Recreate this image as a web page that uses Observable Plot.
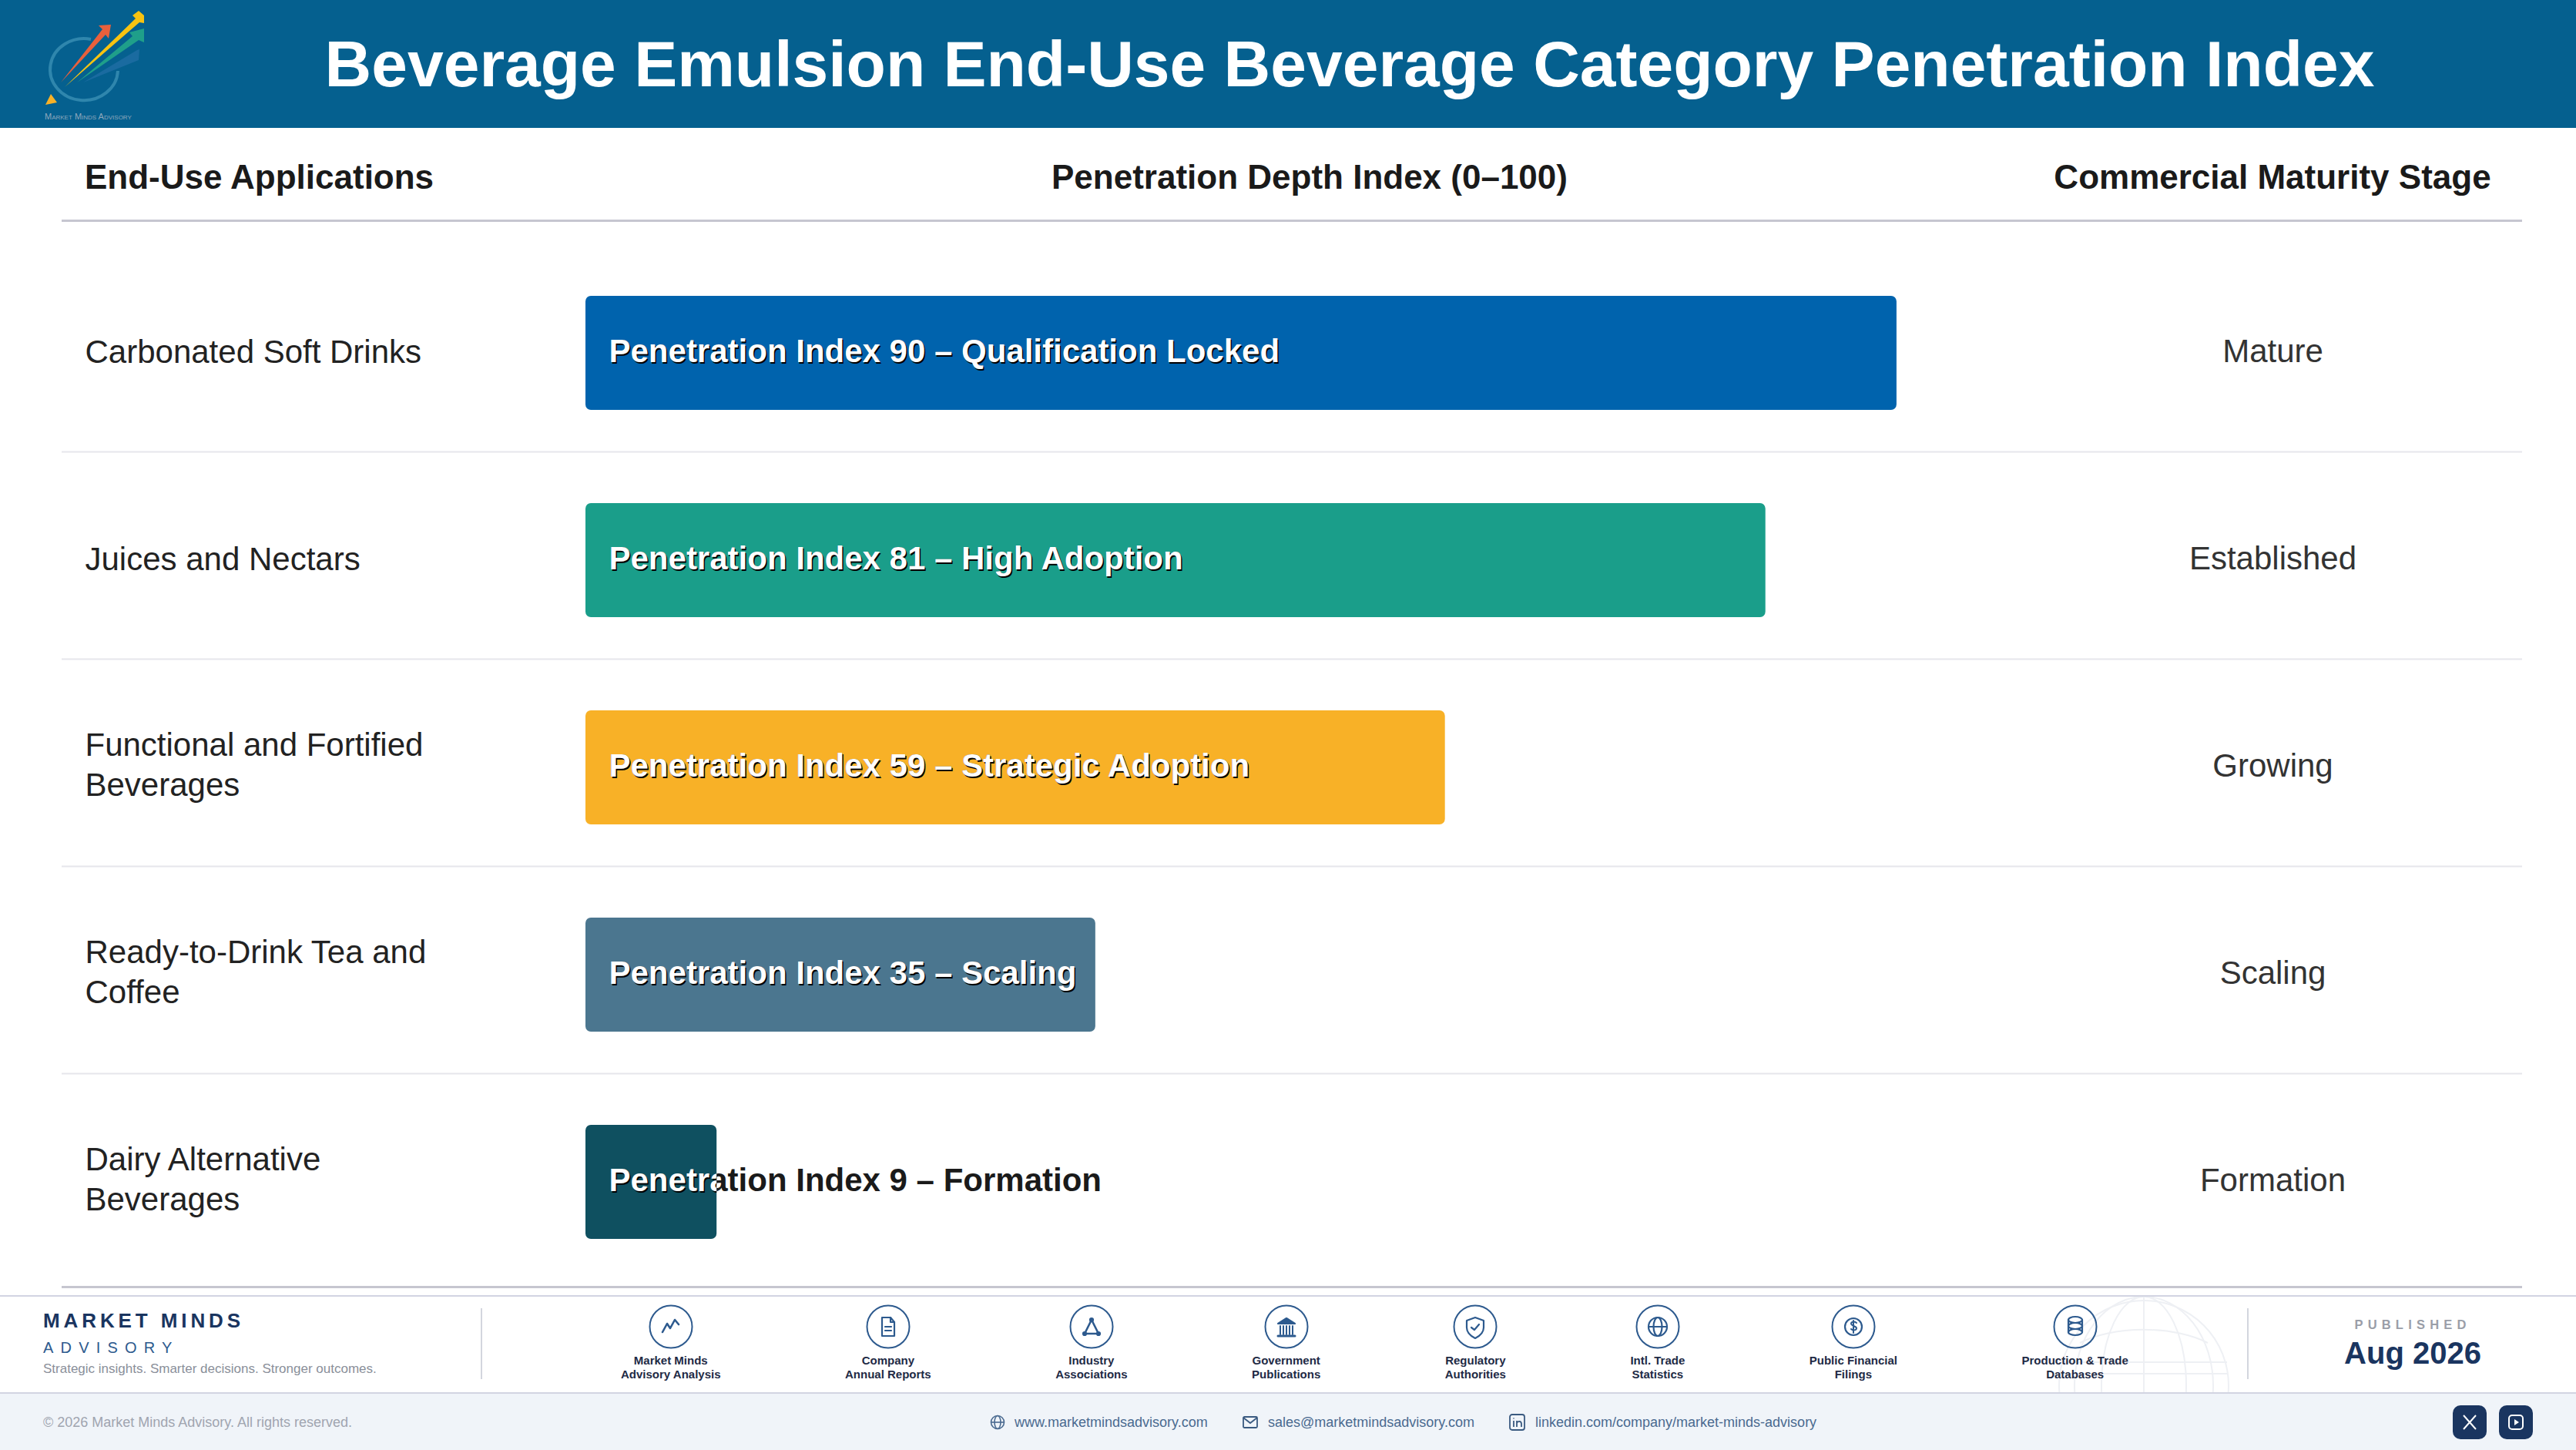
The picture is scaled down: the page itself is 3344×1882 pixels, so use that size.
<!DOCTYPE html>
<html><head><meta charset="utf-8">
<script src="https://cdn.jsdelivr.net/npm/d3@7"></script>
<script src="https://cdn.jsdelivr.net/npm/@observablehq/plot@0.6"></script>
<style>
html,body{margin:0;padding:0;background:#fff;overflow:hidden}
#page{position:relative;width:3344px;height:1882px;font-family:"Liberation Sans",Arial,sans-serif;overflow:hidden;background:#fff}
.abs{position:absolute;white-space:nowrap}
#hdr{left:0;top:0;width:3344px;height:166px;background:#05608f}
#title{left:0;width:3504px;top:30px;text-align:center;color:#fff;font-weight:700;font-size:84px;line-height:106px}
.col{font-weight:700;font-size:44px;line-height:50px;top:205px;color:#1a1a1a}
#chart{left:0;top:288px}
#foot{left:0;top:1681px;width:3344px;height:124px;border-top:2px solid #d2d4e2;border-bottom:3px solid #d2d4e2;background:#fff}
#bot{left:0;top:1809px;width:3344px;height:73px;background:#f0f4f9}
#sources{position:absolute;left:806px;top:1693px;display:flex;gap:161.5px}
.src{display:flex;flex-direction:column;align-items:center;white-space:nowrap;text-align:center;font-size:15px;font-weight:700;line-height:18px;color:#1e2a45}
.src svg{display:block;margin-bottom:6px}
.lnk{top:1835px;font-size:18px;line-height:22px;color:#4a6a90}
.soc{top:1824px;width:44px;height:44px;border-radius:10px;background:#1a3560;display:flex;align-items:center;justify-content:center}
</style></head><body>
<div id="page"></div>
<script>
const categories = ["Carbonated Soft Drinks","Juices and Nectars","Functional and Fortified\nBeverages","Ready-to-Drink Tea and\nCoffee","Dairy Alternative\nBeverages"];
const indexValues = [90,81,59,35,9];
const stageWords = ["Qualification Locked","High Adoption","Strategic Adoption","Scaling","Formation"];
const maturityStages = ["Mature","Established","Growing","Scaling","Formation"];
const barColors = ["#0063ad","#1a9e8a","#f8b127","#4b768f","#0f5060"];
const columnTitles = ["End-Use Applications","Penetration Depth Index (0–100)","Commercial Maturity Stage"];
const chartTitle = "Beverage Emulsion End-Use Beverage Category Penetration Index";
const sourceNames = ["Market Minds\nAdvisory Analysis","Company\nAnnual Reports","Industry\nAssociations","Government\nPublications","Regulatory\nAuthorities","Intl. Trade\nStatistics","Public Financial\nFilings","Production & Trade\nDatabases"];

const rows = categories.map((category,i)=>({
  category, value:indexValues[i], color:barColors[i], stage:maturityStages[i],
  label:`Penetration Index ${indexValues[i]} – ${stageWords[i]}`
}));
const font = '"Liberation Sans",Arial,sans-serif';
const labelOpts = {x:()=>0, y:"category", text:"label", textAnchor:"start", fontFamily:font, fontSize:42, fontWeight:700, lineAnchor:"middle"};
const nameOpts = {text:"category",y:"category",frameAnchor:"left",dx:30,textAnchor:"start",fill:"#222",fontFamily:font,fontSize:42,lineHeight:1.24,lineAnchor:"middle"};
const chart = Plot.plot({
  width:3344, height:1382,
  marginLeft:80, marginRight:70, marginTop:0, marginBottom:0,
  style:{background:"transparent",fontFamily:font},
  x:{domain:[0,100],range:[760,2651],axis:null},
  y:{domain:categories,range:[35,1380],paddingInner:.45,paddingOuter:.225,axis:null},
  color:{type:"identity"},
  marks:[
    Plot.ruleY(categories.slice(0,-1),{y:d=>d,dy:128,stroke:"#e6e6ec",strokeWidth:2}),
    Plot.barX(rows,{x1:()=>0,x2:"value",y:"category",fill:"color",rx:7}),
    Plot.text(rows,{...labelOpts,fill:"#1a1a1a",dx:30,dy:-1.5}),
    Plot.text(rows,{...labelOpts,fill:"black",dx:31.5,dy:0}),
    Plot.text(rows,{...labelOpts,fill:"white",dx:30,dy:-1.5}),
    Plot.text(rows,{...nameOpts,filter:d=>!d.category.includes("\n"),dy:-4}),
    Plot.text(rows,{...nameOpts,filter:d=>d.category.includes("\n"),dy:-6.5}),
    Plot.text(rows,{text:"stage",x:()=>100,y:"category",dx:299,dy:-2,fill:"#333",fontFamily:font,fontSize:42,lineAnchor:"middle"})
  ]
});
chart.id="chart"; chart.classList.add("abs");

// clip the white label layer and its shadow to the bars
const NS="http://www.w3.org/2000/svg";
const defs=document.createElementNS(NS,"defs"), cp=document.createElementNS(NS,"clipPath");
cp.id="barClip"; defs.append(cp); chart.prepend(defs);
chart.querySelectorAll('g[aria-label="bar"] rect').forEach(r=>cp.append(r.cloneNode()));
for (const fill of ["black","white"]) {
  const layer=chart.querySelector(`g[aria-label="text"][fill="${fill}"]`);
  const wrap=document.createElementNS(NS,"g"); wrap.setAttribute("clip-path","url(#barClip)");
  layer.parentNode.insertBefore(wrap,layer); wrap.append(layer);
}

const S="#2d5a8e";
const ic=(inner)=>`<svg width="58" height="58" viewBox="0 0 58 58" fill="none" stroke="${S}" stroke-width="2.2" stroke-linejoin="round" stroke-linecap="round"><circle cx="29" cy="29" r="27.5" stroke-width="2"/>${inner}</svg>`;
const icons=[
 `<path d="M18 36l6-11 4 6 6-11 5 6" stroke-width="2.6"/>`,
 `<path d="M21 17h11l5 6v18H21z"/><path d="M25 29h8M25 34h8M32 17v6h5"/>`,
 `<path d="M29 20L20 38h18z" stroke-width="2.6"/><circle cx="29" cy="20" r="2" fill="${S}"/><circle cx="20" cy="38" r="2" fill="${S}"/><circle cx="38" cy="38" r="2" fill="${S}"/>`,
 `<path d="M18 25l11-7 11 7z" fill="${S}"/><path d="M21 28v11M25 28v11M29 28v11M33 28v11M37 28v11" stroke-width="2"/><path d="M18 41h22" stroke-width="3"/>`,
 `<path d="M29 17l11 4v9c0 7-5 11-11 14-6-3-11-7-11-14v-9z"/><path d="M24 30l4 3 6-7"/>`,
 `<circle cx="29" cy="29" r="12"/><ellipse cx="29" cy="29" rx="5.5" ry="12"/><path d="M17 29h24"/>`,
 `<circle cx="29" cy="29" r="11"/><path d="M33 24c-2-2-7-2-7 1s7 3 7 6-5 3-7 1M29 21v16" stroke-width="2"/>`,
 `<ellipse cx="29" cy="20" rx="9" ry="4"/><ellipse cx="29" cy="28" rx="9" ry="4"/><ellipse cx="29" cy="36" rx="9" ry="4"/><path d="M20 20v16M38 20v16"/>`
];
const page=document.getElementById("page");
page.innerHTML=`
<div class="abs" id="hdr"></div>
<svg class="abs" style="left:0;top:0" width="200" height="166" fill="none">
  <path d="M118 51A44 40 0 1 0 153 92" stroke="#2f86ad" stroke-width="4"/>
  <path d="M79 107L133 38L128 33L144 32L141 50L137 45Z" fill="#e8603c"/>
  <path d="M108 107L178 65L181 64L180 78Z" fill="#1a6ba0"/>
  <path d="M100 107L172 47L168 42L187 37L187 55L180 52Z" fill="#1f9f8a"/>
  <path d="M84 113L176 24L172 20L180 14L187 20L187 30L181 29Z" fill="#f8c311"/>
  <path d="M59 136L66 122L74 133Z" fill="#f8b127"/>
  <text x="58" y="155" font-size="11" fill="#8fa8bd" font-family="Liberation Sans" style="font-variant:small-caps">Market Minds Advisory</text>
</svg>
<div class="abs" id="title">${chartTitle}</div>
<div class="abs col" style="left:110px">${columnTitles[0]}</div>
<div class="abs col" style="left:0;width:3400px;text-align:center">${columnTitles[1]}</div>
<div class="abs col" style="left:2450px;width:1000px;text-align:center">${columnTitles[2]}</div>
<div class="abs" style="left:80px;top:285px;width:3194px;height:3px;background:#c6c6d0"></div>
<div class="abs" style="left:80px;top:1669px;width:3194px;height:3px;background:#c6c6d0"></div>
<div class="abs" id="foot"></div>
<div class="abs" id="bot"></div>
<svg class="abs" style="left:2670px;top:1683px" width="230" height="124" fill="none" stroke="#eef0f4" stroke-width="2">
  <circle cx="113" cy="115" r="110"/><ellipse cx="113" cy="115" rx="55" ry="115"/><ellipse cx="113" cy="115" rx="90" ry="115"/><path d="M113 0v124M5 100h216M5 85h216"/><path d="M30 60a110 50 0 0 1 166 0"/>
</svg>
<div class="abs" style="left:56px;top:1697px;font-size:26px;line-height:34px;font-weight:700;letter-spacing:4.9px;color:#1a3560">MARKET MINDS</div>
<div class="abs" style="left:56px;top:1736px;font-size:20px;line-height:26px;letter-spacing:9.2px;color:#2d5a8e">ADVISORY</div>
<div class="abs" style="left:56px;top:1766px;font-size:17px;line-height:22px;color:#8a8f9a">Strategic insights. Smarter decisions. Stronger outcomes.</div>
<div class="abs" style="left:624px;top:1698px;width:2px;height:92px;background:#d3d6de"></div>
<div class="abs" style="left:2917px;top:1698px;width:2px;height:92px;background:#d3d6de"></div>
<div id="sources">${sourceNames.map((n,i)=>`<div class="src">${ic(icons[i])}<span>${n.replace("\n","<br>").replace("&","&amp;")}</span></div>`).join("")}</div>
<div class="abs" style="left:2902px;width:460px;top:1708px;text-align:center;font-size:16.5px;line-height:22px;font-weight:700;letter-spacing:6.2px;color:#9a9ea8">PUBLISHED</div>
<div class="abs" style="left:2902px;width:460px;top:1732px;text-align:center;font-size:40px;line-height:48px;font-weight:700;color:#1a3560">Aug 2026</div>
<div class="abs" style="left:56px;top:1835px;font-size:18px;line-height:22px;color:#a0a5b0">© 2026 Market Minds Advisory. All rights reserved.</div>
<svg class="abs" style="left:1285px;top:1836px" width="20" height="20" fill="none" stroke="#4a6a90" stroke-width="1.6"><circle cx="10" cy="10" r="8.5"/><ellipse cx="10" cy="10" rx="4" ry="8.5"/><path d="M1.5 10h17"/></svg>
<div class="abs lnk" style="left:1317px">www.marketmindsadvisory.com</div>
<svg class="abs" style="left:1613px;top:1836px" width="20" height="20" fill="none" stroke="#3a5a80" stroke-width="1.8"><rect x="1" y="3" width="18" height="14" rx="1.5"/><path d="M1 4l9 7 9-7"/></svg>
<div class="abs lnk" style="left:1646px">sales@marketmindsadvisory.com</div>
<svg class="abs" style="left:1959px;top:1835px" width="21" height="22" fill="none" stroke="#3a5a80" stroke-width="1.8"><rect x="1" y="1" width="19" height="20" rx="3"/><path d="M6 9v8M10 17V9M10 12c1-3 6-3 6 1v4"/><path d="M6 5.5v1"/></svg>
<div class="abs lnk" style="left:1993px">linkedin.com/company/market-minds-advisory</div>
<div class="abs soc" style="left:3184px"><svg width="24" height="24" stroke="#fff" stroke-width="2" fill="none"><path d="M4 3l16 18M20 3L4 21"/></svg></div>
<div class="abs soc" style="left:3244px"><svg width="24" height="24" fill="none" stroke="#fff" stroke-width="2"><rect x="3" y="3" width="18" height="18" rx="4"/><path d="M10 8l6 4-6 4z" fill="#fff" stroke="none"/></svg></div>
`;
page.append(chart);
</script>
</body></html>
